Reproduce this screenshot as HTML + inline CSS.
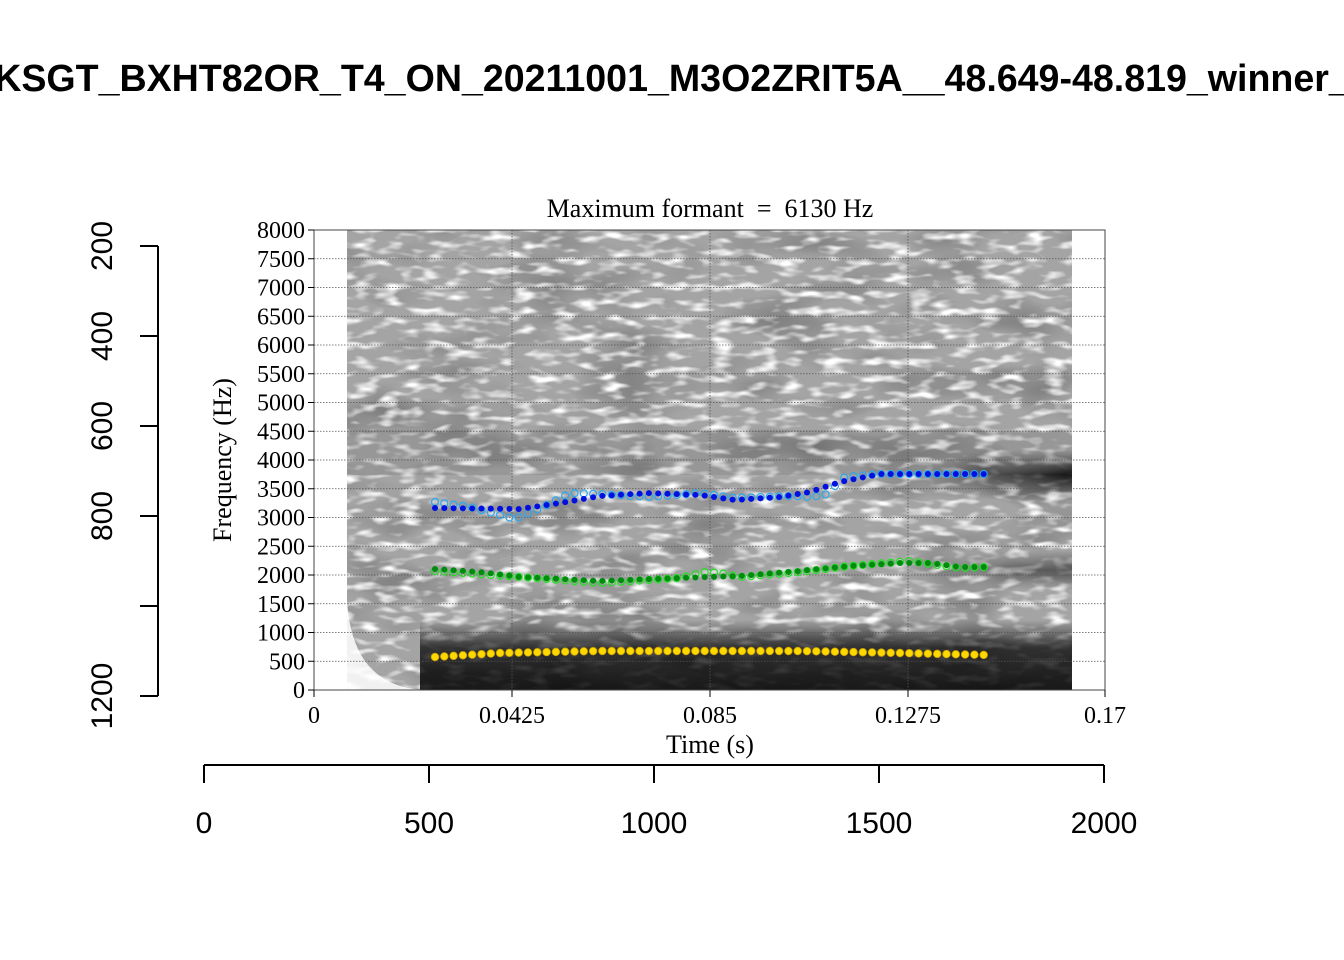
<!DOCTYPE html>
<html><head><meta charset="utf-8"><style>
html,body{margin:0;padding:0;background:#fff;}
svg{display:block;}
</style></head><body>
<svg id="s" width="1344" height="960" xmlns="http://www.w3.org/2000/svg">
<defs>
<filter id="noise" x="0" y="0" width="100%" height="100%">
<feTurbulence type="fractalNoise" baseFrequency="0.045 0.12" numOctaves="2" seed="11"/>
<feColorMatrix type="matrix" values="0 0 0 0 0  0 0 0 0 0  0 0 0 0 0  3.2 0 0 0 -1.55"/>
<feColorMatrix type="matrix" values="0 0 0 0 1  0 0 0 0 1  0 0 0 0 1  0 0 0 1 0"/>
</filter>
<filter id="dn" x="0" y="0" width="100%" height="100%">
<feTurbulence type="fractalNoise" baseFrequency="0.012 0.03" numOctaves="2" seed="3"/>
<feColorMatrix type="matrix" values="0 0 0 0 0  0 0 0 0 0  0 0 0 0 0  -1.8 0 0 0 1.0"/>
</filter>
<linearGradient id="low" x1="0" y1="0" x2="0" y2="1">
<stop offset="0" stop-color="#000" stop-opacity="0"/>
<stop offset="0.4" stop-color="#000" stop-opacity="0.7"/>
<stop offset="1" stop-color="#000" stop-opacity="0.85"/>
</linearGradient>
<linearGradient id="band" x1="0" y1="0" x2="0" y2="1">
<stop offset="0" stop-color="#000" stop-opacity="0"/>
<stop offset="0.5" stop-color="#000" stop-opacity="0.85"/>
<stop offset="1" stop-color="#000" stop-opacity="0"/>
</linearGradient>
<linearGradient id="bandx" x1="0" y1="0" x2="1" y2="0">
<stop offset="0" stop-color="#fff" stop-opacity="0"/>
<stop offset="1" stop-color="#fff" stop-opacity="1"/>
</linearGradient>
<mask id="bm"><rect x="900" y="440" width="172" height="70" fill="url(#bandx)"/></mask>
<mask id="bm2"><rect x="900" y="540" width="172" height="60" fill="url(#bandx)"/></mask>
</defs>
<text x="672" y="91" font-family="Liberation Sans, sans-serif" font-weight="bold" font-size="37.6" text-anchor="middle">KSGT_BXHT82OR_T4_ON_20211001_M3O2ZRIT5A__48.649-48.819_winner_</text>

<rect x="347" y="230" width="725" height="460" fill="#a4a4a4"/>
<rect x="347" y="230" width="725" height="460" filter="url(#dn)" opacity="0.3"/>
<rect x="347" y="230" width="725" height="460" filter="url(#noise)"/>
<rect x="347" y="430" width="725" height="45" fill="#000" opacity="0.08"/>
<rect x="420" y="620" width="652" height="70" fill="url(#low)"/>
<path d="M347 600 Q352 690 430 690 L347 690 Z" fill="#fff" opacity="0.85"/>
<rect x="900" y="450" width="172" height="50" fill="url(#band)" mask="url(#bm)"/>
<rect x="900" y="550" width="172" height="40" fill="url(#band)" mask="url(#bm2)" opacity="0.6"/>
<g id="grid" stroke="#555" stroke-width="0.8" stroke-dasharray="1.5,1.5"></g>
<rect x="314" y="230" width="791" height="460" fill="none" stroke="#444" stroke-width="1"/>
<g id="pts"></g>
<g id="ax" font-family="Liberation Serif, serif" font-size="24" fill="#000"></g>
<text x="710" y="217" font-family="Liberation Serif, serif" font-size="26" text-anchor="middle" xml:space="preserve">Maximum formant  =  6130 Hz</text>
<text x="710" y="753" font-family="Liberation Serif, serif" font-size="26" text-anchor="middle">Time (s)</text>
<text transform="translate(231,460) rotate(-90)" font-family="Liberation Serif, serif" font-size="26" text-anchor="middle">Frequency (Hz)</text>
<g stroke="#000" stroke-width="2" fill="none">
<path d="M158 246 V696 M158 246 H140 M158 336 H140 M158 426 H140 M158 516 H140 M158 606 H140 M158 696 H140"/>
<path d="M204 765 H1104 M204 765 V783 M429 765 V783 M654 765 V783 M879 765 V783 M1104 765 V783"/>
</g>
<g font-family="Liberation Sans, sans-serif" font-size="30" text-anchor="middle">
<text transform="translate(112,246) rotate(-90)">200</text>
<text transform="translate(112,336) rotate(-90)">400</text>
<text transform="translate(112,426) rotate(-90)">600</text>
<text transform="translate(112,516) rotate(-90)">800</text>
<text transform="translate(112,696) rotate(-90)">1200</text>
<text x="204" y="833">0</text><text x="429" y="833">500</text><text x="654" y="833">1000</text><text x="879" y="833">1500</text><text x="1104" y="833">2000</text>
</g>
</svg>
<script>
var NS="http://www.w3.org/2000/svg";
function el(p,t,a,txt){var e=document.createElementNS(NS,t);for(var k in a)e.setAttribute(k,a[k]);if(txt!==undefined)e.textContent=txt;p.appendChild(e);return e;}
var g=document.getElementById('grid'),ax=document.getElementById('ax'),pts=document.getElementById('pts');
for(var i=0;i<=16;i++){var y=690-i*460/16;
 if(i>0&&i<16)el(g,'line',{x1:314,x2:1105,y1:y,y2:y});
 el(ax,'line',{x1:308,x2:314,y1:y,y2:y,stroke:'#000'});
 el(ax,'text',{x:305,y:y+8,'text-anchor':'end'},String(i*500));}
var tx=[[314,'0'],[512,'0.0425'],[710,'0.085'],[908,'0.1275'],[1105,'0.17']];
tx.forEach(function(t,j){if(j>0&&j<4)el(g,'line',{x1:t[0],x2:t[0],y1:230,y2:690});
 el(ax,'line',{x1:t[0],x2:t[0],y1:690,y2:697,stroke:'#000'});
 el(ax,'text',{x:t[0],y:723,'text-anchor':'middle'},t[1]);});
function interp(k,x){for(var i=0;i<k.length-1;i++){if(x<=k[i+1][0]){var a=k[i],b=k[i+1],t=(x-a[0])/(b[0]-a[0]);return a[1]+t*(b[1]-a[1]);}}return k[k.length-1][1];}
var F3=[[435,508],[520,509],[560,503],[600,496],[650,493],[700,495],[735,500],[780,497],[810,492],[840,482],[880,474],[987,474]];
var F3h=[[435,502],[470,507],[515,519],[545,506],[570,493],[600,494],[650,497],[700,493],[735,498],[790,496],[810,497],[825,495],[845,477],[880,474],[987,474]];
var F2=[[435,569],[480,572],[520,577],[600,581],[680,578],[740,576],[800,571],[850,566],[900,563],[930,563],[960,567],[987,567]];
var F2h=[[435,571],[520,577],[600,583],[680,578],[705,572],[720,573],[740,577],[800,572],[850,566],[910,561],[930,564],[960,568],[987,567]];
var F1=[[435,657],[500,653],[600,651],[800,651],[900,653],[987,655]];
for(var x=435;x<=988;x+=9.3){
 el(pts,'circle',{cx:x,cy:interp(F3h,x),r:3.5,fill:'none',stroke:'#2aa8f0','stroke-width':1.2});
 el(pts,'circle',{cx:x,cy:interp(F3,x),r:3,fill:'#0010e0'});
 el(pts,'circle',{cx:x,cy:interp(F2h,x),r:3.5,fill:'none',stroke:'#22e022','stroke-width':1.2});
 el(pts,'circle',{cx:x,cy:interp(F2,x),r:3,fill:'#008a10'});
 el(pts,'circle',{cx:x,cy:interp(F1,x),r:3.8,fill:'#ffd800',stroke:'#c8a000','stroke-width':0.8});
}
</script>
</body></html>
